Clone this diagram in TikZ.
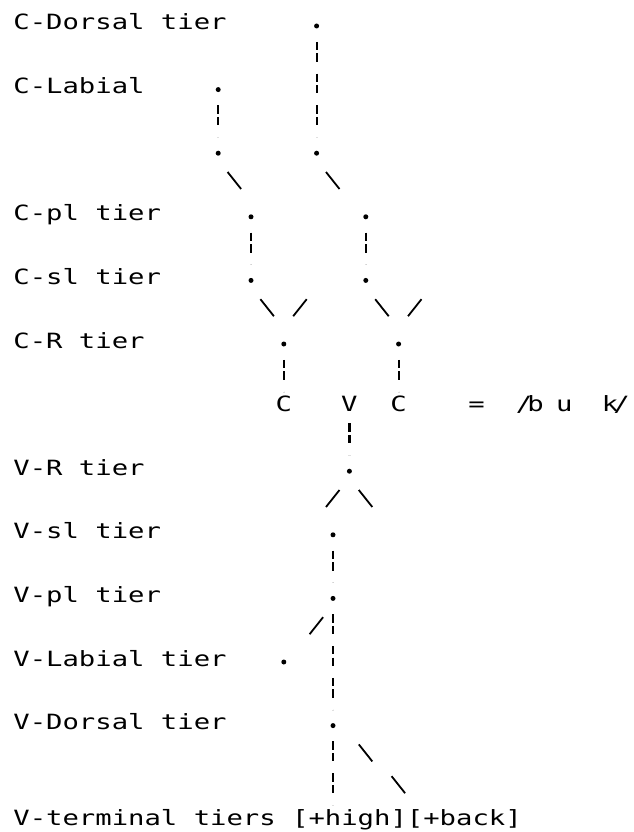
\documentclass[tikz,border=0pt]{standalone}
\usepackage{fontspec}
\usepackage{graphicx}
\newfontfamily\dmfont{DejaVu Sans Mono}
\newcommand\mono[1]{\scalebox{1.297}[1]{#1}}
\newcommand\bslseg[3]{\coordinate (#1a) at ([shift={(-7pt,17pt)}]#2,#3);\coordinate (#1b) at ([shift={(6.5pt,0pt)}]#2,#3);\draw[slash] (#1a) -- (#1b);}
\newcommand\fslseg[3]{\coordinate (#1a) at ([shift={(6.5pt,17pt)}]#2,#3);\coordinate (#1b) at ([shift={(-7pt,0pt)}]#2,#3);\draw[slash] (#1a) -- (#1b);}
\begin{document}
\begin{tikzpicture}[x=16.4pt,y=-31.8pt,
  lbl/.style={anchor=base west,inner sep=0pt,font=\dmfont\fontsize{21pt}{21pt}\selectfont},
  ltr/.style={anchor=base,inner sep=0pt,font=\dmfont\fontsize{21pt}{21pt}\selectfont},
  dotn/.style={circle,fill=black,inner sep=0pt,minimum size=5pt,yshift=4pt},
  vcon/.style={line width=2.2pt,dash pattern=on 8.3pt off 3.3pt on 8.3pt off 11.9pt,dash phase=20pt},
  slash/.style={line width=1.8pt}]
\useasboundingbox (-21.4pt,30pt) rectangle (612.6pt,-802pt);

% labels
\node[lbl] (l0) at (-0.5,0) {\mono{C-Dorsal tier}};
\node[lbl] (l1) at (-0.5,2) {\mono{C-Labial}};
\node[lbl] (l2) at (-0.5,6) {\mono{C-pl tier}};
\node[lbl] (l3) at (-0.5,8) {\mono{C-sl tier}};
\node[lbl] (l4) at (-0.5,10) {\mono{C-R tier}};
\node[lbl] (l5) at (-0.5,14) {\mono{V-R tier}};
\node[lbl] (l6) at (-0.5,16) {\mono{V-sl tier}};
\node[lbl] (l7) at (-0.5,18) {\mono{V-pl tier}};
\node[lbl] (l8) at (-0.5,20) {\mono{V-Labial tier}};
\node[lbl] (l9) at (-0.5,22) {\mono{V-Dorsal tier}};
\node[lbl] (l10) at (-0.5,25) {\mono{V-terminal tiers [+high][+back]}};
\coordinate (hi) at (19,25);

% segment row
\node[ltr] (c1) at (16,12) {\mono{C}};
\node[ltr] (v) at (20,12) {\mono{V}};
\node[ltr] (c2) at (23,12) {\mono{C}};
\node[ltr] (eq) at (27.75,12) {\mono{=}};
\node[ltr] (p1) at (30.65,12) {\mono{/}};
\node[ltr] (pb) at (31.35,12) {\mono{b}};
\node[ltr] (pu) at (33.1,12) {\mono{u}};
\node[ltr] (pk) at (35.9,12) {\mono{k}};
\node[ltr] (p2) at (36.6,12) {\mono{/}};

% dots
\node[dotn] (d0) at (18,0) {};
\node[dotn] (d1) at (12,2) {};
\node[dotn] (d2) at (12,4) {};
\node[dotn] (d3) at (18,4) {};
\node[dotn] (d4) at (14,6) {};
\node[dotn] (d5) at (21,6) {};
\node[dotn] (d6) at (14,8) {};
\node[dotn] (d7) at (21,8) {};
\node[dotn] (d8) at (16,10) {};
\node[dotn] (d9) at (23,10) {};
\node[dotn] (d10) at (20,14) {};
\node[dotn] (d11) at (19,16) {};
\node[dotn] (d12) at (19,18) {};
\node[dotn] (d13) at (16,20) {};
\node[dotn] (d14) at (19,22) {};

% vertical connectors
\draw[vcon] ([yshift=-4pt]d0.center) -- ([yshift=16pt]d3.center);
\draw[vcon] ([yshift=-4pt]d1.center) -- ([yshift=16pt]d2.center);
\draw[vcon] ([yshift=-4pt]d4.center) -- ([yshift=16pt]d6.center);
\draw[vcon] ([yshift=-4pt]d5.center) -- ([yshift=16pt]d7.center);
\draw[vcon] ([yshift=-4pt]d8.center) -- ([yshift=20pt]c1.base);
\draw[vcon] ([yshift=-4pt]d9.center) -- ([yshift=20pt]c2.base);
\draw[vcon] (v.base) -- ([yshift=16pt]d10.center);
\draw[vcon] ([yshift=-4pt]d11.center) -- ([yshift=16pt]d12.center);
\draw[vcon] ([yshift=-4pt]d12.center) -- ([yshift=16pt]d14.center);
\draw[vcon] ([yshift=-4pt]d14.center) -- ([yshift=20pt]hi);

% slanted connectors
\bslseg{s1}{13}{5}
\bslseg{s2}{19}{5}
\bslseg{s3}{15}{9}
\fslseg{s4}{17}{9}
\bslseg{s5}{22}{9}
\fslseg{s6}{24}{9}
\fslseg{s7}{19}{15}
\bslseg{s8}{21}{15}
\fslseg{s9}{18}{19}
\bslseg{s10}{21}{23}
\bslseg{s11}{23}{24}
\end{tikzpicture}
\end{document}
